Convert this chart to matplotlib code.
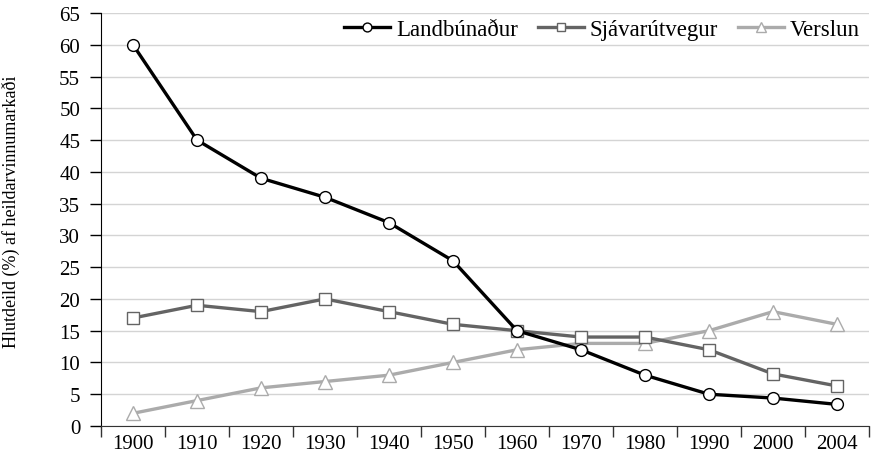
import matplotlib
matplotlib.use('Agg')
import matplotlib.pyplot as plt
import numpy as np

years = ['1900', '1910', '1920', '1930', '1940', '1950', '1960', '1970', '1980', '1990', '2000', '2004']
landbunadur = [60, 45, 39, 36, 32, 26, 15, 12, 8, 5, 4.4, 3.4]
sjavarutvegur = [17, 19, 18, 20, 18, 16, 15, 14, 14, 12, 8.2, 6.3]
verslun = [2, 4, 6, 7, 8, 10, 12, 13, 13, 15, 18, 16]

plt.rcParams['font.family'] = ['Liberation Serif', 'DejaVu Serif']

fig = plt.figure(figsize=(8.73, 4.56), dpi=100)
ax = fig.add_axes([0.1157, 0.0636, 0.8797, 0.9057])

x = np.arange(len(years))
ax.plot(x, landbunadur, '-o', color='black', linewidth=2.4, markersize=8.5,
        markerfacecolor='white', markeredgecolor='black', markeredgewidth=1.0,
        label='Landbúnaður', zorder=5)
ax.plot(x, sjavarutvegur, '-s', color='#646464', linewidth=2.4, markersize=8.5,
        markerfacecolor='white', markeredgecolor='#646464', markeredgewidth=1.0,
        label='Sjávarútvegur', zorder=4)
ax.plot(x, verslun, '-^', color='#ababab', linewidth=2.4, markersize=10,
        markerfacecolor='white', markeredgecolor='#ababab', markeredgewidth=1.0,
        label='Verslun', zorder=3)

ax.set_xlim(-0.5, len(years) - 0.5)
ax.set_ylim(0, 65)
ax.set_yticks(range(0, 66, 5))
ax.set_xticks(x)
ax.set_xticklabels(years)
ax.set_xticks(np.arange(-0.5, len(years), 1), minor=True)
ax.tick_params(axis='x', which='major', length=0, labelsize=15, pad=6)
ax.tick_params(axis='x', which='minor', length=8, width=1, color='#333333', direction='out')
ax.tick_params(axis='y', length=8, width=1, labelsize=15, direction='out', pad=7)

ax.grid(axis='y', color='#d4d4d4', linewidth=1)
ax.set_axisbelow(True)
for side in ['top', 'right']:
    ax.spines[side].set_visible(False)
ax.spines['left'].set_color('black')
ax.spines['bottom'].set_color('#333333')

ax.set_ylabel('Hlutdeild (%) af heildarvinnumarkaði', fontsize=13)
ax.yaxis.set_label_coords(-0.105, 0.52)

ax.legend(loc='center right', bbox_to_anchor=(0.988, 0.961), ncol=3, frameon=False,
          fontsize=16.5, handlelength=2.0, handletextpad=0.26, columnspacing=0.87,
          borderaxespad=0, borderpad=0, markerscale=0.75)

plt.savefig('out.png', dpi=100)
plt.close()
